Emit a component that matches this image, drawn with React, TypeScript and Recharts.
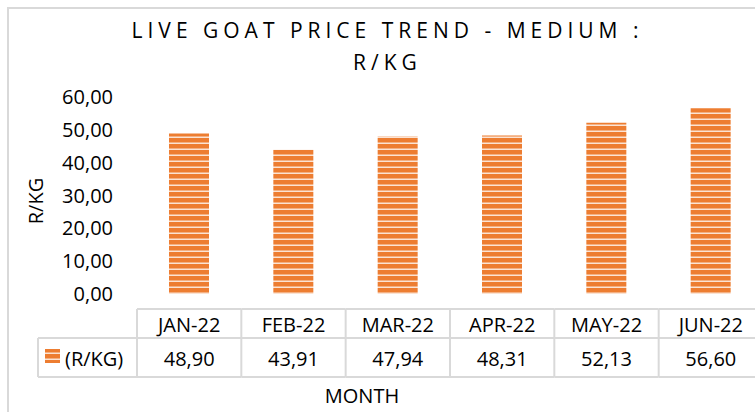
import React from "react";
import { BarChart, Bar, XAxis, YAxis } from "recharts";

// values
const months = ["JAN-22", "FEB-22", "MAR-22", "APR-22", "MAY-22", "JUN-22"];
const prices = [48.9, 43.91, 47.94, 48.31, 52.13, 56.6];
const seriesName = "(R/KG)";
const yTicks = [0, 10, 20, 30, 40, 50, 60];

const data = months.map((month, i) => ({ month, price: prices[i] }));

const FONT = "'Open Sans', sans-serif";
const CHART_W = 775;
const CHART_H = 412;
const MARGIN = { top: 97, right: 12, bottom: 0, left: 0 };
const Y_AXIS_W = 137;
const PLOT_W = CHART_W - MARGIN.left - MARGIN.right - Y_AXIS_W;
const GRID = "#d9d9d9";
const ORANGE = "#ed7d31";

const fmt = (v: number) => v.toFixed(2).replace(".", ",");

// month header + value row of the data table, drawn under each category
const TableTick = (props: any) => {
  const { x, y, payload, index } = props;
  const colW = PLOT_W / months.length;
  const left = x - colW / 2;
  const right = x + colW / 2;
  const top = y + 15;
  const mid = y + 44;
  const bottom = y + 83;
  const legendLeft = left - 99;
  return (
    <g>
      <line x1={left} x2={right} y1={top} y2={top} stroke={GRID} strokeWidth={2} />
      <line x1={left} x2={right} y1={mid} y2={mid} stroke={GRID} strokeWidth={2} />
      <line x1={left} x2={right} y1={bottom} y2={bottom} stroke={GRID} strokeWidth={2} />
      <line x1={left} x2={left} y1={top} y2={bottom} stroke={GRID} strokeWidth={2} />
      {index === months.length - 1 && (
        <line x1={right} x2={right} y1={top} y2={bottom} stroke={GRID} strokeWidth={2} />
      )}
      <text x={x} y={y + 30} textAnchor="middle" dominantBaseline="central" fontSize={20} fill="#000" fontFamily={FONT}>
        {payload.value}
      </text>
      <text x={x} y={y + 64} textAnchor="middle" dominantBaseline="central" fontSize={20} fill="#000" fontFamily={FONT}>
        {fmt(prices[index])}
      </text>
      {index === 0 && (
        <g>
          <line x1={legendLeft} x2={left} y1={mid} y2={mid} stroke={GRID} strokeWidth={2} />
          <line x1={legendLeft} x2={left} y1={bottom} y2={bottom} stroke={GRID} strokeWidth={2} />
          <line x1={legendLeft} x2={legendLeft} y1={mid} y2={bottom} stroke={GRID} strokeWidth={2} />
          <rect x={legendLeft + 7} y={y + 55} width={15} height={14} fill="url(#stripes)" />
          <text x={legendLeft + 27} y={y + 64} dominantBaseline="central" fontSize={20} fill="#000" fontFamily={FONT}>
            {seriesName}
          </text>
        </g>
      )}
    </g>
  );
};

export default function App() {
  return (
    <div
      style={{
        position: "absolute",
        left: 0,
        top: 0,
        width: 755,
        height: 412,
        overflow: "hidden",
        background: "#fff",
        fontFamily: FONT,
      }}
    >
      <div
        style={{
          position: "absolute",
          left: 7,
          top: 7,
          width: 800,
          height: 450,
          border: `2px solid ${GRID}`,
        }}
      />
      <div
        style={{
          position: "absolute",
          left: 0,
          top: 14,
          width: 775,
          textAlign: "center",
          fontSize: 21,
          lineHeight: "32px",
          letterSpacing: 5,
          color: "#000",
        }}
      >
        LIVE GOAT PRICE TREND - MEDIUM :<br />R/KG
      </div>
      <div
        style={{
          position: "absolute",
          left: 300,
          top: 382,
          width: 124,
          textAlign: "center",
          fontSize: 20,
          lineHeight: "28px",
          color: "#000",
        }}
      >
        MONTH
      </div>
      <div
        style={{
          position: "absolute",
          left: -14,
          top: 187,
          width: 100,
          textAlign: "center",
          fontSize: 20,
          lineHeight: "28px",
          color: "#000",
          transform: "rotate(-90deg)",
        }}
      >
        R/KG
      </div>
      <div style={{ position: "absolute", left: 0, top: 0 }}>
        <BarChart width={CHART_W} height={CHART_H} data={data} margin={MARGIN}>
          <defs>
            <pattern id="stripes" patternUnits="userSpaceOnUse" width={8} height={6}>
              <rect x={0} y={0} width={8} height={6} fill="#fbe3d3" />
              <rect x={0} y={0} width={8} height={4.5} fill={ORANGE} />
            </pattern>
          </defs>
          <YAxis
            domain={[0, 60]}
            ticks={yTicks}
            width={Y_AXIS_W}
            axisLine={false}
            tickLine={false}
            tickSize={0}
            tickMargin={24}
            tickFormatter={fmt}
            tick={{ fill: "#000", fontSize: 20, fontFamily: FONT }}
          />
          <XAxis
            dataKey="month"
            height={118}
            axisLine={false}
            tickLine={false}
            tickSize={0}
            tickMargin={0}
            interval={0}
            tick={<TableTick />}
          />
          <Bar dataKey="price" fill="url(#stripes)" barSize={40} isAnimationActive={false} />
        </BarChart>
      </div>
    </div>
  );
}
